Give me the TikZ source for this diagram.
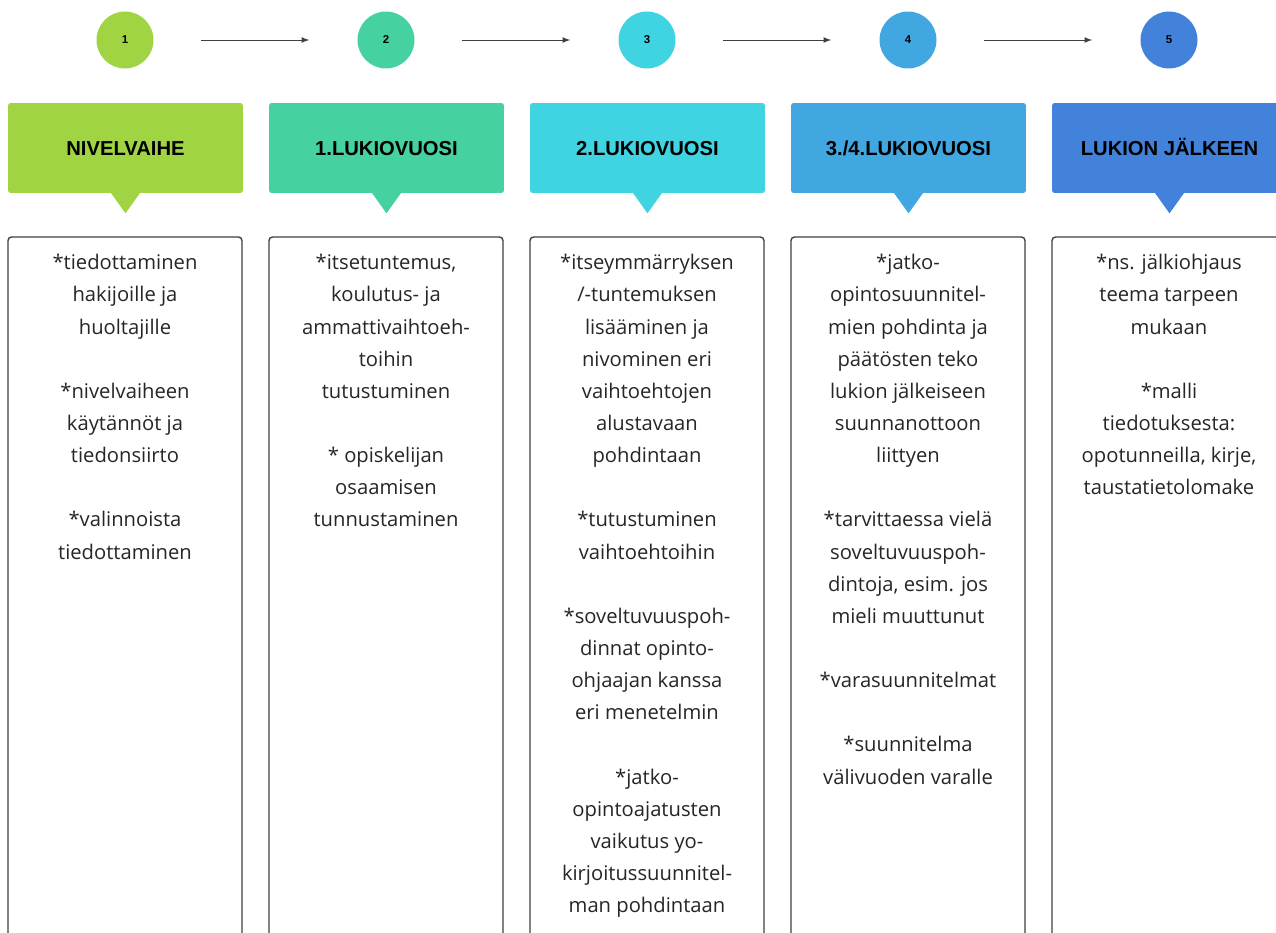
\documentclass[tikz,border=0pt]{standalone}
\usepackage{fontspec}
\setmainfont{Open Sans}
\newfontfamily\headfont{Liberation Sans}
\usetikzlibrary{calc,arrows}
\definecolor{vaihe1}{RGB}{160,212,66}
\definecolor{vaihe2}{RGB}{69,209,160}
\definecolor{vaihe3}{RGB}{64,211,225}
\definecolor{vaihe4}{RGB}{64,167,224}
\definecolor{vaihe5}{RGB}{66,130,218}
\tikzset{
  pallo/.style={circle,fill=#1,minimum size=1.14cm,inner sep=0pt,font=\headfont\bfseries\fontsize{6.5}{7}\selectfont},
  nuoli/.style={-latex,draw=black!75,line width=0.5pt,shorten <=0.94cm,shorten >=0.96cm},
  otsikko/.style={fill=#1,rounded corners=1.5pt,minimum width=4.7cm,minimum height=1.8cm,inner sep=0pt,text height=8.2pt,text depth=0pt,font=\headfont\bfseries\fontsize{11.5}{13}\selectfont},
  laatikko/.style={draw=black!75,line width=0.8pt,rounded corners=2pt,fill=white},
  teksti/.style={anchor=north,align=center,inner sep=0pt,text=black!85,font=\fontsize{11.5}{18.3}\selectfont}
}
\begin{document}
\begin{tikzpicture}[x=0.02cm,y=-0.02cm]
\useasboundingbox (0,0) rectangle (1276,933);
\clip (0,0) rectangle (1276,933);
\node[pallo=vaihe1](c1) at (125,40) {1};
\node[pallo=vaihe2](c2) at (386,40) {2};
\node[pallo=vaihe3](c3) at (647,40) {3};
\node[pallo=vaihe4](c4) at (908,40) {4};
\node[pallo=vaihe5](c5) at (1169,40) {5};
\draw[nuoli] (c1) -- (c2);
\draw[nuoli] (c2) -- (c3);
\draw[nuoli] (c3) -- (c4);
\draw[nuoli] (c4) -- (c5);
\node[otsikko=vaihe1](h1) at (125.5,148) {NIVELVAIHE};
\node[otsikko=vaihe2](h2) at (386.5,148) {1.LUKIOVUOSI};
\node[otsikko=vaihe3](h3) at (647.5,148) {2.LUKIOVUOSI};
\node[otsikko=vaihe4](h4) at (908.5,148) {3./4.LUKIOVUOSI};
\node[otsikko=vaihe5](h5) at (1169.5,148) {LUKION JÄLKEEN};
\fill[vaihe1] ($(h1.south)+(-15,-1)$) -- ($(h1.south)+(0,20)$) -- ($(h1.south)+(15,-1)$) -- cycle;
\fill[vaihe2] ($(h2.south)+(-15,-1)$) -- ($(h2.south)+(0,20)$) -- ($(h2.south)+(15,-1)$) -- cycle;
\fill[vaihe3] ($(h3.south)+(-15,-1)$) -- ($(h3.south)+(0,20)$) -- ($(h3.south)+(15,-1)$) -- cycle;
\fill[vaihe4] ($(h4.south)+(-15,-1)$) -- ($(h4.south)+(0,20)$) -- ($(h4.south)+(15,-1)$) -- cycle;
\fill[vaihe5] ($(h5.south)+(-15,-1)$) -- ($(h5.south)+(0,20)$) -- ($(h5.south)+(15,-1)$) -- cycle;
\draw[laatikko] (8,237) rectangle (242,960);
\draw[laatikko] (269,237) rectangle (503,960);
\draw[laatikko] (530,237) rectangle (764,960);
\draw[laatikko] (791,237) rectangle (1025,960);
\draw[laatikko] (1052,237) rectangle (1286,960);
\node[teksti](t1) at (125,254) {*tiedottaminen\\hakijoille ja\\huoltajille\\[18.3pt]
  *nivelvaiheen\\käytännöt ja\\tiedonsiirto\\[18.3pt]
  *valinnoista\\tiedottaminen};
\node[teksti](t2) at (386,254) {*itsetuntemus,\\koulutus- ja\\ammattivaihtoeh-\\toihin\\tutustuminen\\[18.3pt]
  * opiskelijan\\osaamisen\\tunnustaminen};
\node[teksti](t3) at (647,254) {*itseymmärryksen\\/-tuntemuksen\\lisääminen ja\\nivominen eri\\vaihtoehtojen\\alustavaan\\pohdintaan\\[18.3pt]
  *tutustuminen\\vaihtoehtoihin\\[18.3pt]
  *soveltuvuuspoh-\\dinnat opinto-\\ohjaajan kanssa\\eri menetelmin\\[18.3pt]
  *jatko-\\opintoajatusten\\vaikutus yo-\\kirjoitussuunnitel-\\man pohdintaan};
\node[teksti](t4) at (908,254) {*jatko-\\opintosuunnitel-\\mien pohdinta ja\\päätösten teko\\lukion jälkeiseen\\suunnanottoon\\liittyen\\[18.3pt]
  *tarvittaessa vielä\\soveltuvuuspoh-\\dintoja, esim. jos\\mieli muuttunut\\[18.3pt]
  *varasuunnitelmat\\[18.3pt]
  *suunnitelma\\välivuoden varalle};
\node[teksti](t5) at (1169,254) {*ns. jälkiohjaus\\teema tarpeen\\mukaan\\[18.3pt]
  *malli\\tiedotuksesta:\\opotunneilla, kirje,\\taustatietolomake};
\end{tikzpicture}
\end{document}
